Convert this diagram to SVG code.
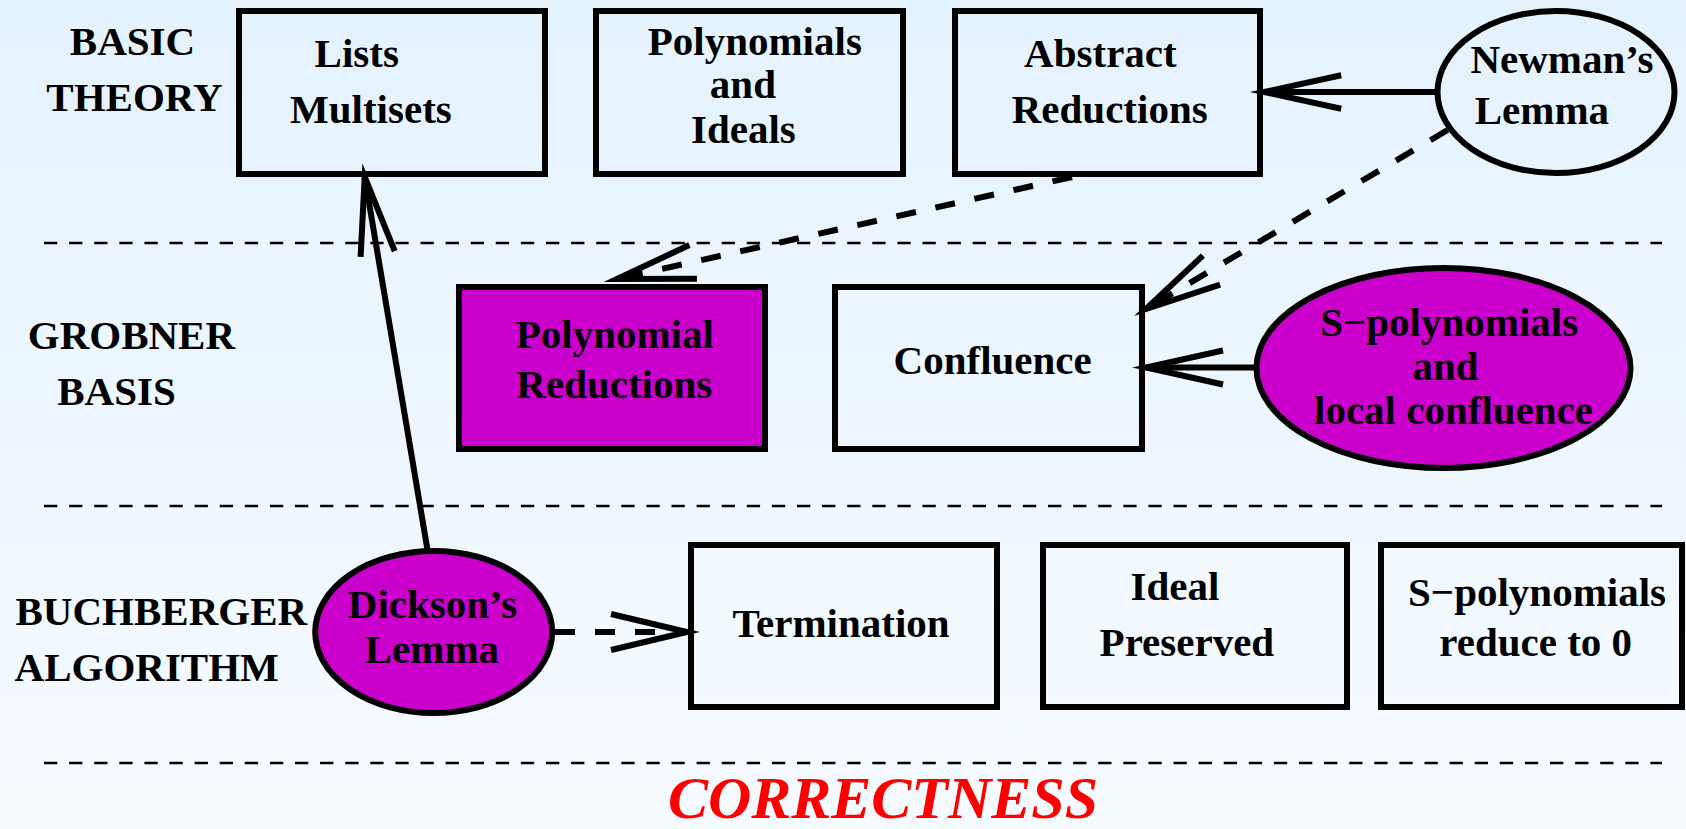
<svg xmlns="http://www.w3.org/2000/svg" width="1686" height="829" viewBox="0 0 1686 829">
<defs>
<linearGradient id="bg" x1="0" y1="0" x2="0" y2="1">
<stop offset="0" stop-color="#e4f2fe"/>
<stop offset="1" stop-color="#f6fbff"/>
</linearGradient>
</defs>
<style>
.box{fill:none;stroke:#000;stroke-width:6}
.hl{fill:#cc00cc;stroke:#000;stroke-width:6}
.t{font-family:"Liberation Serif","Times New Roman",serif;font-weight:bold;font-size:41px;fill:#000;text-anchor:middle}
.lbl{font-family:"Liberation Serif","Times New Roman",serif;font-weight:bold;font-size:41px;fill:#000;text-anchor:middle}
.sep{stroke:#000;stroke-width:2.5;stroke-dasharray:13.3 11.8;fill:none}
.edge{stroke:#000;stroke-width:6;fill:none}
.dash{stroke:#000;stroke-width:6;fill:none;stroke-dasharray:20 20}
.head{stroke:#000;stroke-width:6;fill:none;stroke-linejoin:miter;stroke-miterlimit:20}
.title{font-family:"Liberation Serif","Times New Roman",serif;font-weight:bold;font-style:italic;font-size:60px;fill:#ff0000;text-anchor:middle}
</style>
<rect x="0" y="0" width="1686" height="829" fill="url(#bg)"/>

<g id="separators">
<line class="sep" x1="44" y1="243" x2="1662" y2="243"/>
<line class="sep" x1="44" y1="506" x2="1662" y2="506"/>
<line class="sep" x1="44" y1="763" x2="1662" y2="763"/>
</g>

<g id="row-labels">
<text class="lbl" x="132.5" y="55">BASIC</text>
<text class="lbl" x="134.5" y="111">THEORY</text>
<text class="lbl" x="131.4" y="349">GROBNER</text>
<text class="lbl" x="116.5" y="405">BASIS</text>
<text class="lbl" x="161.3" y="625">BUCHBERGER</text>
<text class="lbl" x="146.7" y="681">ALGORITHM</text>
</g>

<g id="connectors">
<line class="edge" x1="427.5" y1="550" x2="364.7" y2="177"/>
<polyline class="head" points="360.6,256.9 364.7,177 394.7,251.2"/>
<line class="edge" x1="1437.5" y1="92" x2="1264" y2="92"/>
<polyline class="head" points="1341.2,75.3 1264,92 1341.2,108.7"/>
<line class="dash" x1="1072" y1="177" x2="617" y2="279"/>
<polyline class="head" points="697,278.8 617,279 689.4,245"/>
<line class="dash" x1="1447.6" y1="130" x2="1146" y2="309"/>
<polyline class="head" points="1220.1,284.6 1146,309 1202.9,255.6"/>
<line class="edge" x1="1256.5" y1="367.5" x2="1146" y2="367.5"/>
<polyline class="head" points="1223,350.5 1146,367.5 1223,384.5"/>
<line class="dash" x1="555" y1="632" x2="687" y2="632"/>
<polyline class="head" points="611,614 687,632 611,650"/>
</g>

<g id="lists">
<rect class="box" x="239" y="11" width="306" height="163"/>
<text class="t" x="356.7" y="66.7">Lists</text>
<text class="t" x="370.9" y="123.3">Multisets</text>
</g>

<g id="polynomials-ideals">
<rect class="box" x="596" y="11" width="307" height="163"/>
<text class="t" x="754.8" y="55">Polynomials</text>
<text class="t" x="742.9" y="98.3">and</text>
<text class="t" x="743.4" y="142.7">Ideals</text>
</g>

<g id="abstract-reductions">
<rect class="box" x="955" y="11" width="305" height="163"/>
<text class="t" x="1100.4" y="66.7">Abstract</text>
<text class="t" x="1109.7" y="123.3">Reductions</text>
</g>

<g id="newmans-lemma">
<ellipse class="box" cx="1556" cy="92" rx="118.5" ry="81"/>
<text class="t" x="1561.9" y="72.7">Newman’s</text>
<text class="t" x="1541.9" y="124">Lemma</text>
</g>

<g id="polynomial-reductions">
<rect class="hl" x="459" y="287" width="306" height="162"/>
<text class="t" x="614.8" y="348.3">Polynomial</text>
<text class="t" x="614.3" y="398.3">Reductions</text>
</g>

<g id="confluence">
<rect class="box" x="835" y="287" width="307" height="162"/>
<text class="t" x="992.7" y="374">Confluence</text>
</g>

<g id="s-poly-local-confluence">
<ellipse class="hl" cx="1443.5" cy="368" rx="187" ry="100"/>
<text class="t" x="1449.2" y="336">S−polynomials</text>
<text class="t" x="1445.5" y="380">and</text>
<text class="t" x="1453.5" y="424">local confluence</text>
</g>

<g id="dicksons-lemma">
<ellipse class="hl" cx="433.7" cy="632" rx="118.5" ry="81"/>
<text class="t" x="432.5" y="618.3">Dickson’s</text>
<text class="t" x="431.9" y="662.7">Lemma</text>
</g>

<g id="termination">
<rect class="box" x="691" y="545" width="306" height="162"/>
<text class="t" x="841" y="636.7">Termination</text>
</g>

<g id="ideal-preserved">
<rect class="box" x="1043" y="545" width="304" height="162"/>
<text class="t" x="1174.9" y="600">Ideal</text>
<text class="t" x="1186.9" y="656">Preserved</text>
</g>

<g id="s-poly-reduce">
<rect class="box" x="1381" y="545" width="301" height="162"/>
<text class="t" x="1537" y="606">S−polynomials</text>
<text class="t" x="1535.7" y="656">reduce to 0</text>
</g>

<g id="correctness">
<text class="title" x="883" y="818">CORRECTNESS</text>
</g>
</svg>
